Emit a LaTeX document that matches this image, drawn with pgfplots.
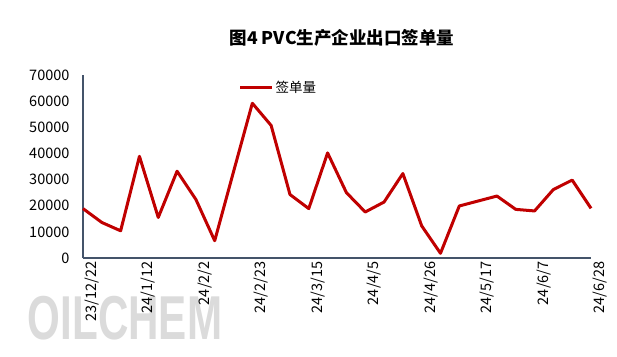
\documentclass[border=0pt]{standalone}
\usepackage{pgfplots}
\pgfplotsset{compat=1.18}
\usepackage{fontspec}
\setmainfont{Noto Sans CJK SC}
\newfontfamily\wmfont{Liberation Sans}
\definecolor{linered}{HTML}{C00000}
\definecolor{axisgray}{HTML}{44546A}
\begin{document}
\begin{tikzpicture}[x=1pt,y=1pt]
\useasboundingbox (0,0) rectangle (617,356);
\node[text=gray!28, font=\wmfont\bfseries\fontsize{62}{62}\selectfont, inner sep=0pt] at (125,38) {\scalebox{0.68}[1]{OILCHEM}};
\node[font=\bfseries\fontsize{17.5}{19}\selectfont, inner sep=0pt] at (342,318) {图4 PVC生产企业出口签单量};
\begin{axis}[
  at={(83pt,98pt)}, anchor=south west,
  scale only axis, width=508pt, height=183pt,
  xmin=0, xmax=27, ymin=0, ymax=70000,
  axis x line=bottom, axis y line=left,
  axis line style={-, draw=axisgray, line width=1.6pt},
  xtick={0,3,...,27},
  xticklabels={23/12/22,24/1/12,24/2/2,24/2/23,24/3/15,24/4/5,24/4/26,24/5/17,24/6/7,24/6/28},
  ytick={0,10000,...,70000},
  scaled y ticks=false,
  major tick length=0pt,
  /pgf/number format/assume math mode=true,
  /pgf/number format/1000 sep={},
  yticklabel style={font=\fontsize{14.5}{16}\selectfont, xshift=-10pt},
  xticklabel style={font=\fontsize{14.5}{16}\selectfont, rotate=90, anchor=east, yshift=-9pt},
  legend style={draw=none, fill=none, at={(0.30,0.99)}, anchor=north west, font=\fontsize{13.5}{15}\selectfont, legend cell align=left},
  legend image code/.code={\draw[#1, line width=3pt] (0pt,0pt) -- (32pt,0pt);},
  clip=false,
]
\addplot[color=linered, line width=3pt, line join=round] coordinates {
(0,18900) (1,13600) (2,10400) (3,38900) (4,15500) (5,33200) (6,22400) (7,6600)
(8,33000) (9,59200) (10,50700) (11,24300) (12,18900) (13,40200) (14,25000)
(15,17600) (16,21400) (17,32300) (18,12300) (19,1800) (20,19900) (21,21800)
(22,23700) (23,18600) (24,18000) (25,26200) (26,29800) (27,19000)
};
\addlegendentry{签单量}
\end{axis}
\end{tikzpicture}
\end{document}
